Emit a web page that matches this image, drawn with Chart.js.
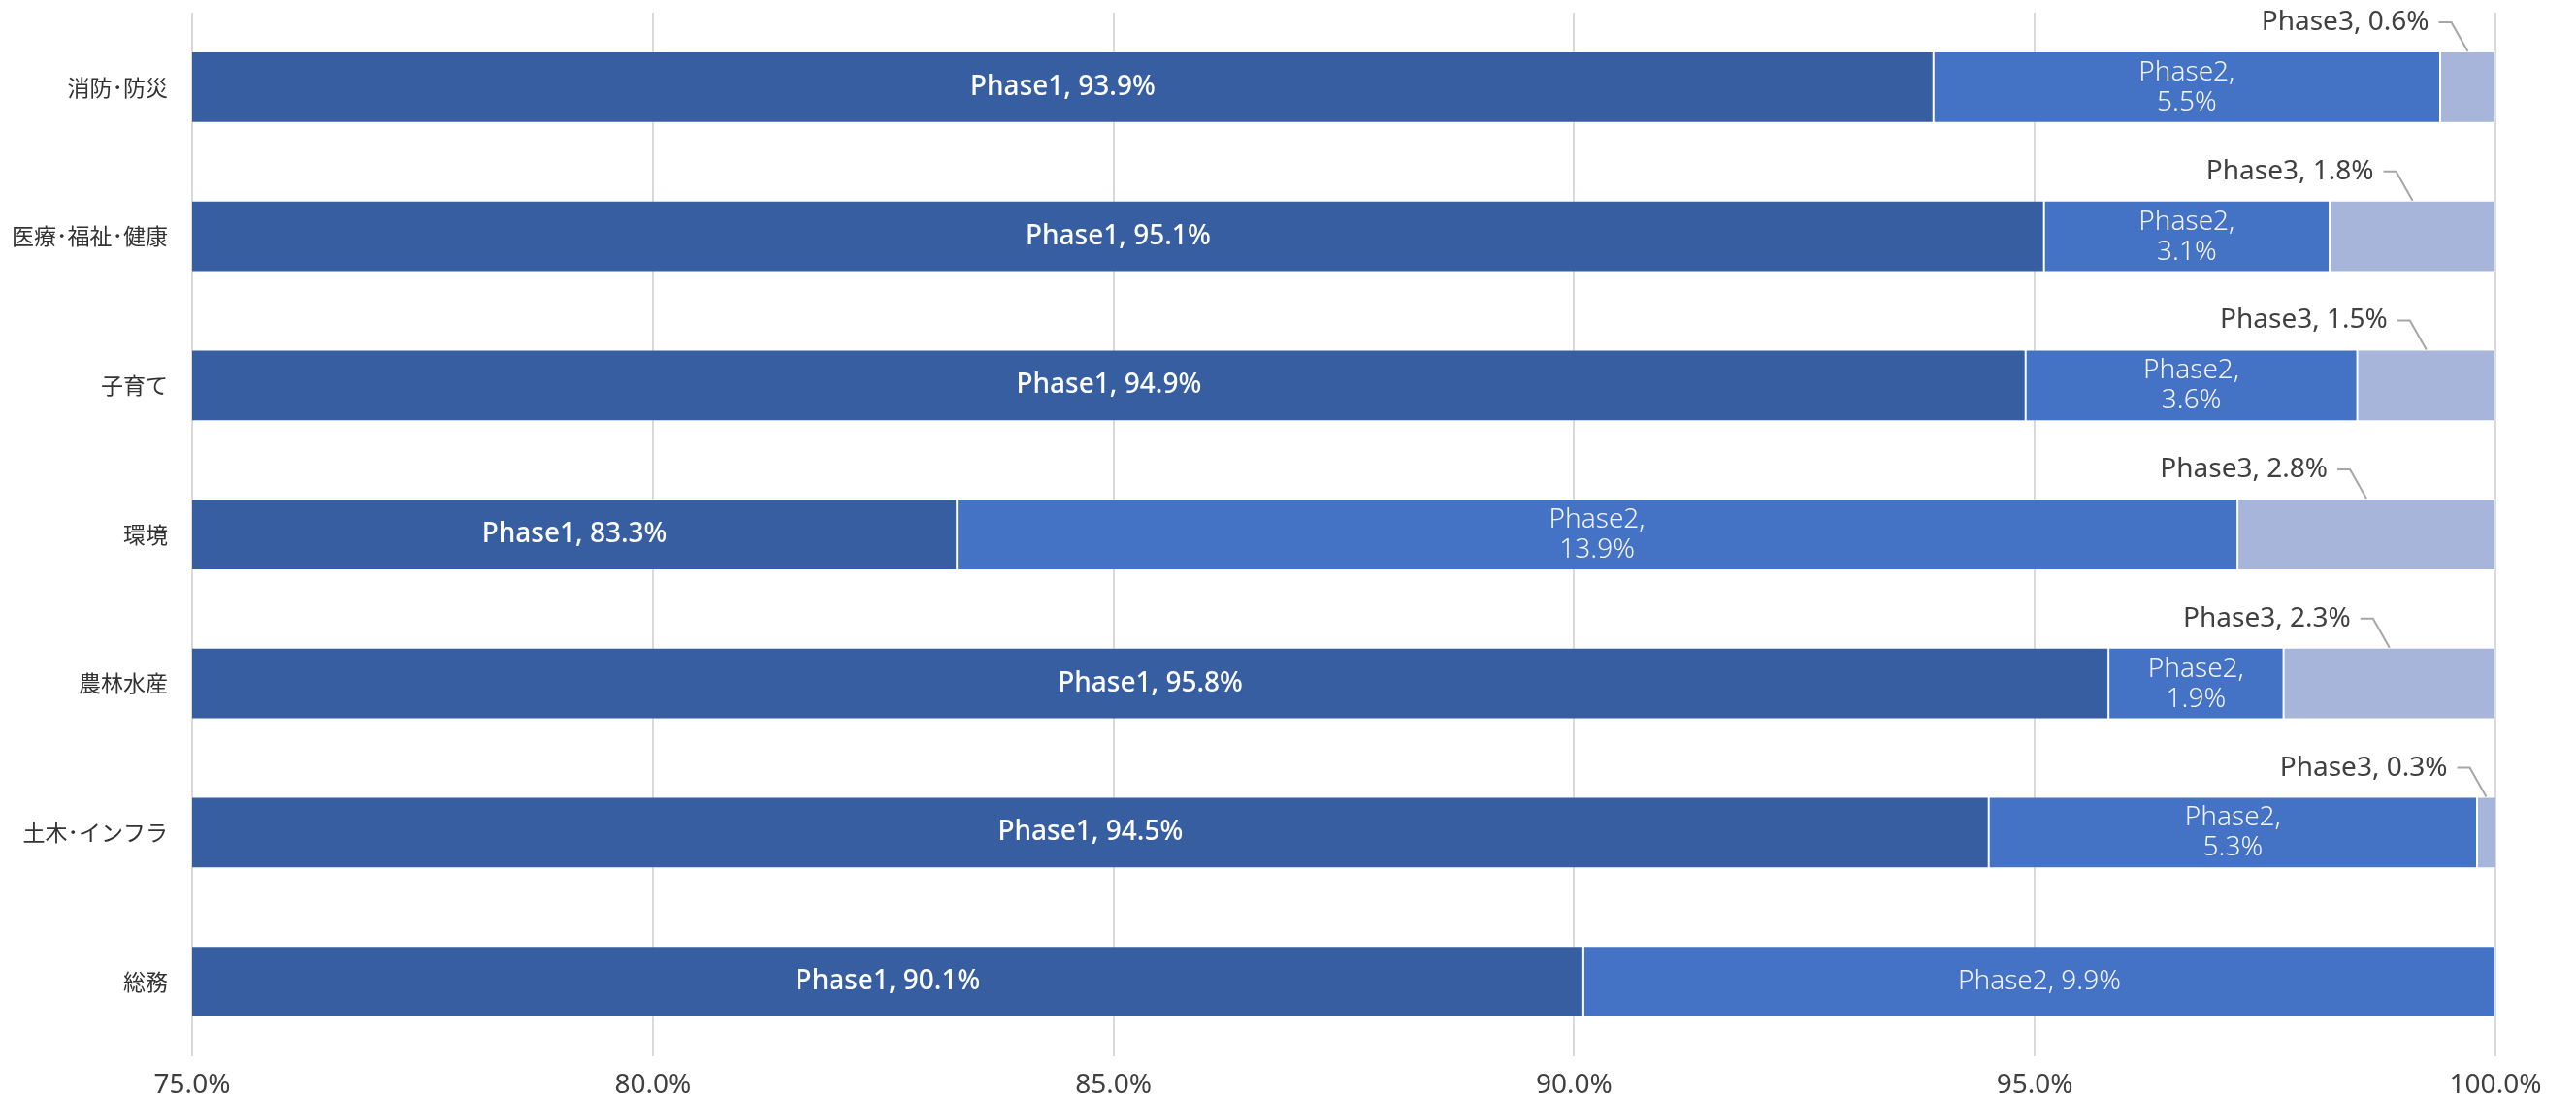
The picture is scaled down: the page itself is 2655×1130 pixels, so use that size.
<!DOCTYPE html>
<html>
<head>
<meta charset="utf-8">
<script src="https://cdn.jsdelivr.net/npm/chart.js@4.4.1/dist/chart.umd.min.js"></script>
<style>
  html, body { margin: 0; padding: 0; background: #fff; }
  #wrap { width: 2655px; height: 1130px; }
</style>
</head>
<body>
<div id="wrap"><canvas id="phaseChart" width="2655" height="1130"></canvas></div>
<script>
// categories and series values (percent)
const categories = ['消防･防災', '医療･福祉･健康', '子育て', '環境', '農林水産', '土木･インフラ', '総務'];
const phase1 = [93.9, 95.1, 94.9, 83.3, 95.8, 94.5, 90.1];
const phase2 = [5.5, 3.1, 3.6, 13.9, 1.9, 5.3, 9.9];
const phase3 = [0.6, 1.8, 1.5, 2.8, 2.3, 0.3, 0];
const xTicks = [75, 80, 85, 90, 95, 100];

const CJK = "'Noto Sans CJK JP', sans-serif";
const LATIN = "'Noto Sans', 'Noto Sans CJK JP', sans-serif";

// draws the "PhaseN, x.x%" labels on / above the segments
const segmentLabels = {
  id: 'segmentLabels',
  afterDatasetsDraw(chart) {
    const ctx = chart.ctx;
    const area = chart.chartArea;
    ctx.save();
    chart.data.datasets.forEach((ds, di) => {
      const meta = chart.getDatasetMeta(di);
      meta.data.forEach((bar, i) => {
        const v = ds.data[i];
        if (!v) return;
        const left = Math.max(bar.base, area.left);
        const right = Math.min(bar.x, area.right);
        const cx = (left + right) / 2;
        const cy = bar.y;
        const text = ds.label + ', ' + v.toFixed(1) + '%';
        ctx.textBaseline = 'middle';
        if (di === 0) {
          ctx.font = '500 28px ' + LATIN;
          ctx.fillStyle = '#ffffff';
          ctx.textAlign = 'center';
          ctx.fillText(text, cx, cy);
        } else if (di === 1) {
          ctx.font = '300 28px ' + LATIN;
          ctx.fillStyle = '#f4f4f4';
          ctx.textAlign = 'center';
          if (phase3[i] > 0) {
            ctx.fillText(ds.label + ',', cx, cy - 15);
            ctx.fillText(v.toFixed(1) + '%', cx, cy + 16);
          } else {
            ctx.fillText(text, cx, cy);
          }
        } else {
          const top = bar.y - bar.height / 2;
          const ly = top - 30;
          ctx.font = '400 28px ' + LATIN;
          ctx.fillStyle = '#404040';
          ctx.textAlign = 'right';
          ctx.fillText(text, cx - 40, ly);
          ctx.strokeStyle = '#a6a6a6';
          ctx.lineWidth = 2;
          ctx.beginPath();
          ctx.moveTo(cx - 30, ly);
          ctx.lineTo(cx - 17, ly);
          ctx.lineTo(cx, top);
          ctx.stroke();
        }
      });
    });
    ctx.restore();
  }
};

const ctx = document.getElementById('phaseChart').getContext('2d');
new Chart(ctx, {
  type: 'bar',
  data: {
    labels: categories,
    datasets: [
      { label: 'Phase1', data: phase1, backgroundColor: '#365ea1' },
      { label: 'Phase2', data: phase2, backgroundColor: '#4472c4' },
      { label: 'Phase3', data: phase3, backgroundColor: '#a8b5da' }
    ]
  },
  options: {
    indexAxis: 'y',
    responsive: false,
    animation: false,
    layout: { padding: { top: 13, right: 83, left: 0, bottom: 0 } },
    datasets: {
      bar: {
        barPercentage: 0.48,
        categoryPercentage: 1.0,
        borderWidth: 1,
        borderColor: 'rgba(255,255,255,0.25)',
        borderSkipped: false
      }
    },
    plugins: {
      legend: { display: false },
      tooltip: { enabled: false }
    },
    scales: {
      x: {
        stacked: true,
        min: 75,
        max: 100,
        afterBuildTicks: axis => { axis.ticks = xTicks.map(v => ({ value: v })); },
        afterFit: axis => { axis.height = 41; axis.paddingLeft = 0; axis.paddingRight = 0; },
        grid: { color: '#d9d9d9', lineWidth: 2, drawTicks: false },
        border: { display: false },
        ticks: {
          padding: 13,
          color: '#404040',
          font: { family: LATIN, size: 28 },
          callback: v => v.toFixed(1) + '%'
        }
      },
      y: {
        stacked: true,
        afterFit: axis => { axis.width = 198; axis.paddingTop = 0; axis.paddingBottom = 0; },
        grid: { display: false },
        border: { display: false },
        ticks: {
          padding: 17,
          color: '#333333',
          font: { family: CJK, size: 23 }
        }
      }
    }
  },
  plugins: [segmentLabels]
});
</script>
</body>
</html>
